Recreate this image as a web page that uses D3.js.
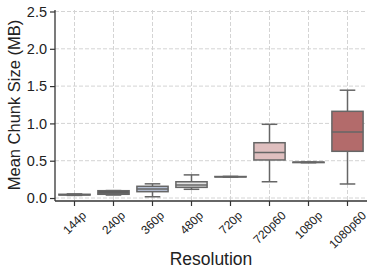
<!DOCTYPE html>
<html>
<head>
<meta charset="utf-8">
<script src="https://cdn.jsdelivr.net/npm/d3@7"></script>
<style>
  body { margin: 0; background: #fff; }
  svg text { font-family: "Liberation Sans", Arial, sans-serif; fill: #222; }
</style>
</head>
<body>
<svg id="chart" width="374" height="274"></svg>
<script>
// box stats (MB)
const resolutions = ["144p", "240p", "360p", "480p", "720p", "720p60", "1080p", "1080p60"];
const whisker_low = [0.035, 0.040, 0.017, 0.117, 0.280, 0.218, 0.473, 0.188];
const q1          = [0.040, 0.050, 0.085, 0.143, 0.282, 0.510, 0.475, 0.626];
const median      = [0.045, 0.065, 0.120, 0.175, 0.285, 0.610, 0.478, 0.885];
const q3          = [0.050, 0.098, 0.157, 0.218, 0.288, 0.741, 0.481, 1.162];
const whisker_high= [0.055, 0.100, 0.190, 0.310, 0.290, 0.988, 0.483, 1.445];
const y_ticks = [0.0, 0.5, 1.0, 1.5, 2.0, 2.5];

const box_colors = ["#4a4a4a", "#5a5a5a", "#b9c3d8", "#e3e3e3", "#eeeeee", "#dfbfbf", "#cfa3a3", "#b36b6b"];
const edge = "#666666";

const plot_left = 55, plot_right = 367, plot_top = 10, plot_bottom = 201;

let svg = d3.select("#chart");

let x = d3.scaleBand().domain(resolutions).range([plot_left, plot_right]).padding(0);
let y = d3.scaleLinear().domain([-0.04, 2.52]).range([plot_bottom, plot_top]);

// grid
let grid = svg.append("g").attr("class", "grid");
grid.selectAll(".gy")
  .data(y_ticks)
  .enter().append("line")
    .attr("x1", plot_left).attr("x2", plot_right)
    .attr("y1", function(d) { return y(d); })
    .attr("y2", function(d) { return y(d); })
    .attr("stroke", "#d4d4d4").attr("stroke-width", 1).attr("stroke-dasharray", "4,2");
grid.selectAll(".gx")
  .data(resolutions)
  .enter().append("line")
    .attr("x1", function(d) { return x(d) + x.bandwidth() / 2; })
    .attr("x2", function(d) { return x(d) + x.bandwidth() / 2; })
    .attr("y1", plot_top).attr("y2", plot_bottom)
    .attr("stroke", "#d4d4d4").attr("stroke-width", 1).attr("stroke-dasharray", "4,2");

// boxes
const box_w = x.bandwidth() * 0.8;
let boxes = svg.append("g").selectAll(".box")
  .data(resolutions)
  .enter().append("g")
    .attr("class", "box")
    .attr("transform", function(d) { return "translate(" + (x(d) + x.bandwidth() / 2) + ",0)"; });

boxes.append("line")
  .attr("x1", 0).attr("x2", 0)
  .attr("y1", function(d, i) { return y(whisker_high[i]); })
  .attr("y2", function(d, i) { return y(q3[i]); })
  .attr("stroke", edge).attr("stroke-width", 1.5);
boxes.append("line")
  .attr("x1", 0).attr("x2", 0)
  .attr("y1", function(d, i) { return y(q1[i]); })
  .attr("y2", function(d, i) { return y(whisker_low[i]); })
  .attr("stroke", edge).attr("stroke-width", 1.5);
[whisker_high, whisker_low].forEach(function(arr) {
  boxes.append("line")
    .attr("x1", -box_w / 4).attr("x2", box_w / 4)
    .attr("y1", function(d, i) { return y(arr[i]); })
    .attr("y2", function(d, i) { return y(arr[i]); })
    .attr("stroke", edge).attr("stroke-width", 1.5);
});
boxes.append("rect")
  .attr("x", -box_w / 2).attr("width", box_w)
  .attr("y", function(d, i) { return y(q3[i]); })
  .attr("height", function(d, i) { return y(q1[i]) - y(q3[i]); })
  .attr("fill", function(d, i) { return box_colors[i]; })
  .attr("stroke", edge).attr("stroke-width", 1.5);
boxes.append("line")
  .attr("x1", -box_w / 2).attr("x2", box_w / 2)
  .attr("y1", function(d, i) { return y(median[i]); })
  .attr("y2", function(d, i) { return y(median[i]); })
  .attr("stroke", edge).attr("stroke-width", 1.5);

// axes
let yAxis = svg.append("g")
  .attr("transform", "translate(" + plot_left + ",0)")
  .call(d3.axisLeft(y).tickValues(y_ticks).tickFormat(d3.format(".1f")).tickSize(5).tickPadding(3));
yAxis.select(".domain").attr("d", "M0," + plot_top + "V" + plot_bottom);
yAxis.selectAll("text").style("font-size", "14.5px");

let xAxis = svg.append("g")
  .attr("transform", "translate(0," + plot_bottom + ")")
  .call(d3.axisBottom(x).tickSize(5));
xAxis.select(".domain").attr("d", "M" + plot_left + ",0H" + plot_right);
xAxis.selectAll("text")
  .style("font-size", "12px")
  .attr("text-anchor", "middle")
  .attr("dy", "0.35em")
  .attr("y", 0)
  .attr("transform", function() {
    let w = this.getComputedTextLength();
    let half = (w + 12) * 0.7071 / 2;
    return "translate(0," + (8 + half) + ") rotate(-45)";
  });

svg.selectAll(".domain").attr("stroke", "#333").attr("stroke-width", 1.3);
svg.selectAll(".tick line").attr("stroke", "#333").attr("stroke-width", 1.2);

// labels
svg.append("text")
  .attr("transform", "translate(19.5,105) rotate(-90)")
  .attr("text-anchor", "middle")
  .style("font-size", "16.5px")
  .text("Mean Chunk Size (MB)");

svg.append("text")
  .attr("x", (plot_left + plot_right) / 2)
  .attr("y", 265)
  .attr("text-anchor", "middle")
  .style("font-size", "17.5px")
  .text("Resolution");
</script>
</body>
</html>
